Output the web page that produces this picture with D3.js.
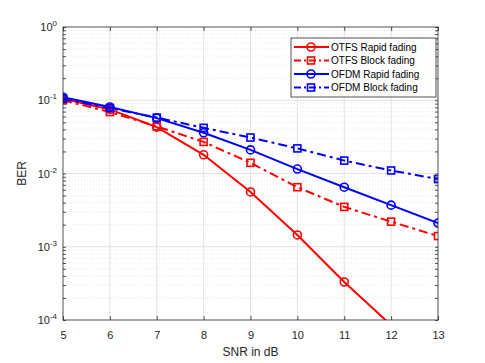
<!DOCTYPE html>
<html>
<head>
<meta charset="utf-8">
<script src="https://cdn.jsdelivr.net/npm/d3@7"></script>
<style>
body { margin: 0; background: #fff; }
text { font-family: "Liberation Sans", Arial, sans-serif; }
</style>
</head>
<body>
<svg id="chart" width="485" height="363"></svg>
<script>
"use strict"

var snr = [5, 6, 7, 8, 9, 10, 11, 12, 13];
var otfsRapid = [0.105, 0.075, 0.043, 0.018, 0.0056, 0.00145, 0.00033, 0.000085];
var otfsBlock = [0.1, 0.069, 0.044, 0.027, 0.014, 0.0065, 0.0035, 0.0022, 0.0014];
var ofdmRapid = [0.11, 0.081, 0.057, 0.036, 0.021, 0.0115, 0.0065, 0.0037, 0.0021];
var ofdmBlock = [0.105, 0.078, 0.058, 0.042, 0.031, 0.022, 0.015, 0.011, 0.0084];
var xTicks = [5, 6, 7, 8, 9, 10, 11, 12, 13];
var yExps = [0, -1, -2, -3, -4];

var series = [
	{name: "OTFS Rapid fading", values: otfsRapid, color: "#ff0000", dash: null, marker: "circle"},
	{name: "OTFS Block fading", values: otfsBlock, color: "#ff0000", dash: "9,4,3,4", marker: "square"},
	{name: "OFDM Rapid fading", values: ofdmRapid, color: "#0000ff", dash: null, marker: "circle"},
	{name: "OFDM Block fading", values: ofdmBlock, color: "#0000ff", dash: "9,4,3,4", marker: "square"}
];

var pLeft = 63, pRight = 438, pTop = 27, pBottom = 320;
var svg = d3.select("#chart");

var x = d3.scaleLinear().domain([5, 13]).range([pLeft, pRight]);
var y = d3.scaleLog().domain([1e-4, 1]).range([pBottom, pTop]);

// grid
var grid = svg.append("g");
var minor = [];
yExps.slice(0, 4).forEach(function(e) {
	for (var k = 2; k <= 9; k++) minor.push(k * Math.pow(10, e - 1));
});
var majors = yExps.map(function(e) { return Math.pow(10, e); });
grid.selectAll(".minor").data(minor).enter().append("line")
	.attr("x1", pLeft).attr("x2", pRight)
	.attr("y1", function(d) { return y(d); }).attr("y2", function(d) { return y(d); })
	.attr("stroke", "#d8d8d8").attr("stroke-width", 0.6).attr("stroke-dasharray", "1,2");
grid.selectAll(".vmaj").data(xTicks.slice(1, -1)).enter().append("line")
	.attr("x1", function(d) { return x(d); }).attr("x2", function(d) { return x(d); })
	.attr("y1", pTop).attr("y2", pBottom)
	.attr("stroke", "#e3e3e3").attr("stroke-width", 1);
grid.selectAll(".hmaj").data(majors.slice(1, -1)).enter().append("line")
	.attr("x1", pLeft).attr("x2", pRight)
	.attr("y1", function(d) { return y(d); }).attr("y2", function(d) { return y(d); })
	.attr("stroke", "#e3e3e3").attr("stroke-width", 1);

// data
svg.append("clipPath").attr("id", "clip").append("rect")
	.attr("x", pLeft).attr("y", pTop).attr("width", pRight - pLeft).attr("height", pBottom - pTop);
var plot = svg.append("g").attr("clip-path", "url(#clip)");
var line = d3.line().x(function(d, i) { return x(snr[i]); }).y(function(d) { return y(d); });

function drawMarker(g, kind, cx, cy, color) {
	if (kind == "circle")
		g.append("circle").attr("cx", cx).attr("cy", cy).attr("r", 4)
			.attr("fill", "none").attr("stroke", color).attr("stroke-width", 1.6);
	else
		g.append("rect").attr("x", cx - 3.5).attr("y", cy - 3.5).attr("width", 7).attr("height", 7)
			.attr("fill", "none").attr("stroke", color).attr("stroke-width", 1.6);
}

series.forEach(function(s) {
	plot.append("path")
		.attr("d", line(s.values))
		.attr("fill", "none")
		.attr("stroke", s.color)
		.attr("stroke-width", 2)
		.attr("stroke-dasharray", s.dash)
		;
	s.values.forEach(function(v, i) {
		drawMarker(plot, s.marker, x(snr[i]), y(v), s.color);
	});
});

// axes box
var axisColor = "#262626";
svg.append("rect").attr("x", pLeft).attr("y", pTop).attr("width", pRight - pLeft).attr("height", pBottom - pTop)
	.attr("fill", "none").attr("stroke", axisColor).attr("stroke-width", 0.8);

var yTickVals = minor.concat(majors);
var gx = svg.append("g").attr("transform", "translate(0," + pBottom + ")")
	.call(d3.axisBottom(x).tickValues(xTicks).tickSize(-4).tickPadding(11).tickFormat(d3.format("d")));
var gxTop = svg.append("g").attr("transform", "translate(0," + pTop + ")")
	.call(d3.axisTop(x).tickValues(xTicks).tickSize(-4).tickFormat(""));
var gy = svg.append("g").attr("transform", "translate(" + pLeft + ",0)")
	.call(d3.axisLeft(y).tickValues(yTickVals).tickSize(-3).tickFormat(""));
var gyR = svg.append("g").attr("transform", "translate(" + pRight + ",0)")
	.call(d3.axisRight(y).tickValues(yTickVals).tickSize(-3).tickFormat(""));

[gx, gxTop, gy, gyR].forEach(function(g) {
	g.select(".domain").remove();
	g.selectAll("line").attr("stroke", axisColor).attr("stroke-width", 0.8);
	g.selectAll("text").attr("fill", axisColor).attr("font-size", 11)
		.attr("font-family", "Liberation Sans, Arial, sans-serif");
});

// y tick labels with superscripts
var ylab = svg.append("g");
yExps.forEach(function(e) {
	var t = ylab.append("text")
		.attr("x", pLeft - 6).attr("y", y(Math.pow(10, e)) + 4)
		.attr("text-anchor", "end").attr("fill", axisColor).attr("font-size", 11);
	t.append("tspan").text("10");
	t.append("tspan").attr("dy", -5).attr("font-size", 8).text(String(e));
});

svg.append("text").attr("x", (pLeft + pRight) / 2).attr("y", 356)
	.attr("text-anchor", "middle").attr("font-size", 12).attr("fill", axisColor).text("SNR in dB");
svg.append("text").attr("transform", "translate(26," + ((pTop + pBottom) / 2) + ") rotate(-90)")
	.attr("text-anchor", "middle").attr("font-size", 12).attr("fill", axisColor).text("BER");

// legend
var lg = svg.append("g").attr("transform", "translate(291,38)");
lg.append("rect").attr("width", 145).attr("height", 59)
	.attr("fill", "#fff").attr("stroke", axisColor).attr("stroke-width", 0.8);
series.forEach(function(s, i) {
	var ly = 9 + i * 13.5;
	lg.append("line").attr("x1", 3).attr("x2", 38).attr("y1", ly).attr("y2", ly)
		.attr("stroke", s.color).attr("stroke-width", 2).attr("stroke-dasharray", s.dash ? "7,3,2,3" : null);
	drawMarker(lg, s.marker, 20, ly, s.color);
	lg.append("text").attr("x", 40).attr("y", ly + 3.8).attr("font-size", 10).attr("fill", "#000").text(s.name);
});
</script>
</body>
</html>
